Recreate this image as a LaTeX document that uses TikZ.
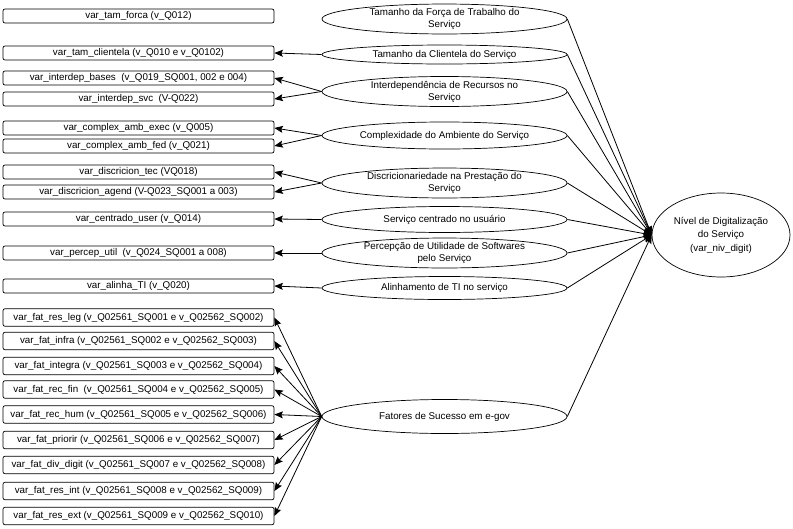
\documentclass[tikz,border=0pt]{standalone}
\usepackage{fontspec}
\setmainfont{Liberation Sans}
\usetikzlibrary{arrows.meta, positioning, shapes.geometric}

\begin{document}
\begin{tikzpicture}[x=1pt, y=-1pt, >={Stealth[length=8.5pt, width=7pt, inset=1.5pt]}, line width=0.8pt,
      every node/.style={font=\fontsize{9.8}{12}\selectfont},
      var/.style={draw, rounded corners=2pt, minimum width=271pt, minimum height=#1,
                  inner sep=0pt, line width=0.7pt},
      var/.default=14pt,
      construto/.style={ellipse, draw, minimum width=245pt, minimum height=#1,
                        inner sep=0pt, align=center, line width=0.7pt},
      construto/.default=27pt]

    \useasboundingbox (0,0) rectangle (793,528);

    % Variables (left column)
    \node[var] (forca)     at (138.5, 16)  {var\_tam\_forca (v\_Q012)};
    \node[var] (clientela) at (138.5, 53)  {var\_tam\_clientela (v\_Q010 e v\_Q0102)};
    \node[var] (bases)     at (138.5, 78)  {var\_interdep\_bases\ \ (v\_Q019\_SQ001, 002 e 004)};
    \node[var] (svc)       at (138.5, 99)  {var\_interdep\_svc\ \ (V-Q022)};
    \node[var] (exec)      at (138.5, 128) {var\_complex\_amb\_exec (v\_Q005)};
    \node[var] (fed)       at (138.5, 146) {var\_complex\_amb\_fed (v\_Q021)};
    \node[var] (tec)       at (138.5, 172) {var\_discricion\_tec (VQ018)};
    \node[var] (agend)     at (138.5, 192) {var\_discricion\_agend (V-Q023\_SQ001 a 003)};
    \node[var] (user)      at (138.5, 219) {var\_centrado\_user (v\_Q014)};
    \node[var] (util)      at (138.5, 253) {var\_percep\_util\ \ (v\_Q024\_SQ001 a 008)};
    \node[var] (ti)        at (138.5, 286) {var\_alinha\_TI (v\_Q020)};

    % Success factor variables
    \node[var=17.5pt] (leg)    at (138.5, 317.5) {var\_fat\_res\_leg (v\_Q02561\_SQ001 e v\_Q02562\_SQ002)};
    \node[var=17.5pt] (infra)  at (138.5, 341)   {var\_fat\_infra (v\_Q02561\_SQ002 e v\_Q02562\_SQ003)};
    \node[var=17.5pt] (integ)  at (138.5, 366)   {var\_fat\_integra (v\_Q02561\_SQ003 e v\_Q02562\_SQ004)};
    \node[var=17.5pt] (fin)    at (138.5, 389.5) {var\_fat\_rec\_fin\ \ (v\_Q02561\_SQ004 e v\_Q02562\_SQ005)};
    \node[var=17.5pt] (hum)    at (138.5, 414.5) {var\_fat\_rec\_hum (v\_Q02561\_SQ005 e v\_Q02562\_SQ006)};
    \node[var=17.5pt] (prior)  at (138.5, 440)   {var\_fat\_priorir (v\_Q02561\_SQ006 e v\_Q02562\_SQ007)};
    \node[var=17.5pt] (div)    at (138.5, 465)   {var\_fat\_div\_digit (v\_Q02561\_SQ007 e v\_Q02562\_SQ008)};
    \node[var=17.5pt] (int)    at (138.5, 491)   {var\_fat\_res\_int (v\_Q02561\_SQ008 e v\_Q02562\_SQ009)};
    \node[var=17.5pt] (ext)    at (138.5, 516)   {var\_fat\_res\_ext (v\_Q02561\_SQ009 e v\_Q02562\_SQ010)};

    % Constructs (middle column)
    \node[construto=26pt] (forcaC)  at (444.5, 19)  {Tamanho da Força de Trabalho do\\Serviço};
    \node[construto=19pt] (clientC) at (444.5, 54.5) {Tamanho da Clientela do Serviço};
    \node[construto=28pt] (interC)  at (444.5, 91.5) {Interdependência de Recursos no\\Serviço};
    \node[construto=27pt] (complC)  at (444.5, 135.5) {Complexidade do Ambiente do Serviço};
    \node[construto=29pt] (discC)   at (444.5, 183) {Discricionariedade na Prestação do\\Serviço};
    \node[construto=26pt] (userC)   at (444.5, 219.5) {Serviço centrado no usuário};
    \node[construto=27pt] (utilC)   at (444.5, 253) {Percepção de Utilidade de Softwares\\pelo Serviço};
    \node[construto=23pt] (tiC)     at (444.5, 288) {Alinhamento de TI no serviço};
    \node[construto=34pt] (fatC)    at (444.5, 416.5) {Fatores de Sucesso em e-gov};

    % Dependent construct
    \node[ellipse, draw, line width=0.7pt, minimum width=138pt, minimum height=84pt, inner sep=0pt,
          align=center, font=\fontsize{9.8}{13.5}\selectfont] (niv) at (721, 235)
          {Nível de Digitalização\\do Serviço\\(var\_niv\_digit)};

    % Constructs to variables
    \draw[->] (clientC.west) -- (clientela.east);
    \draw[->] (interC.west) -- (bases.east);
    \draw[->] (interC.west) -- (svc.east);
    \draw[->] (complC.west) -- (exec.east);
    \draw[->] (complC.west) -- (fed.east);
    \draw[->] (discC.west) -- (tec.east);
    \draw[->] (discC.west) -- (agend.east);
    \draw[->] (userC.west) -- (user.east);
    \draw[->] (utilC.west) -- (util.east);
    \draw[->] (tiC.west) -- (ti.east);
    \foreach \v in {leg, infra, integ, fin, hum, prior, div, int, ext}
        \draw[->] (fatC.west) -- (\v.east);

    % Constructs to digitalization level
    \foreach \c in {forcaC, clientC, interC, complC, discC, userC, utilC, tiC, fatC}
        \draw[->] (\c.east) -- (niv.west);

\end{tikzpicture}
\end{document}
